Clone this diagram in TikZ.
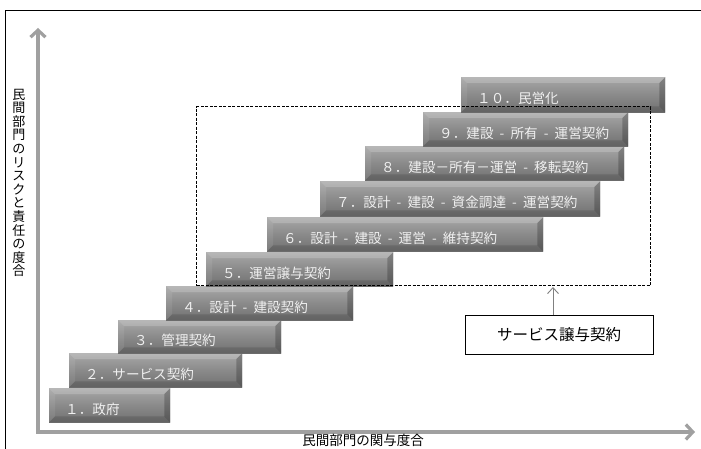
\documentclass[tikz,border=0pt]{standalone}
\usepackage{fontspec}
\newfontfamily\jp{Noto Sans CJK JP}
\usetikzlibrary{arrows.meta}
\definecolor{axisgray}{RGB}{160,160,160}
\definecolor{barTop}{RGB}{168,168,168}
\definecolor{barMid}{RGB}{138,138,138}
\definecolor{barBot}{RGB}{112,112,112}
\definecolor{bartxt}{RGB}{240,240,240}
\newcommand\sep{\hspace{0.45em}-\hspace{0.45em}}
\newcommand\stepbar[6]{%
  \node[barbox, minimum width=#4, minimum height=#5] (#1) at (#2,#3) {};
  \fill[white, opacity=0.18] (#1.north west) -- (#1.north east) -- ([shift={(-6,6)}]#1.north east) -- ([shift={(6,6)}]#1.north west) -- cycle;
  \fill[black, opacity=0.12] (#1.south west) -- (#1.south east) -- ([shift={(-6,-6)}]#1.south east) -- ([shift={(6,-6)}]#1.south west) -- cycle;
  \fill[black, opacity=0.22] (#1.north east) -- (#1.south east) -- ([shift={(-6,-6)}]#1.south east) -- ([shift={(-6,6)}]#1.north east) -- cycle;
  \fill[white, opacity=0.08] (#1.north west) -- (#1.south west) -- ([shift={(6,-6)}]#1.south west) -- ([shift={(6,6)}]#1.north west) -- cycle;
  \node[bartext] (#1t) at ([shift={(16,4)}]#1.west) {#6};
}
\begin{document}
\begin{tikzpicture}[x=1pt,y=-1pt,
  barbox/.style={rectangle, inner sep=0pt, anchor=north west, top color=barTop, bottom color=barBot, middle color=barMid},
  bartext/.style={anchor=west, inner sep=0pt, text=bartxt, font=\jp\fontsize{13.6}{14}\selectfont},
  axis/.style={draw=axisgray, line width=3.2pt, line cap=butt, line join=miter},
  lbl/.style={font=\jp\fontsize{13.5}{14}\selectfont, inner sep=0pt}]
\useasboundingbox (0,0) rectangle (701,449);
\fill[white] (0,0) rectangle (701,449);
% outer frame
\draw[line width=0.8pt] (5,449) -- (5,10) -- (701,10);
% axes
\coordinate (ytip) at (38,28);
\coordinate (origin) at (38,432);
\coordinate (xtip) at (695,432);
\draw[axis, {Straight Barb[length=7pt,width=15pt]}-{Straight Barb[length=7pt,width=15pt]}] (ytip) -- (origin) -- (xtip);
% axis labels
\node[lbl, align=center, font=\jp\fontsize{13}{13.6}\selectfont] (ylab) at (19,183) {民\\間\\部\\門\\の\\リ\\ス\\ク\\と\\責\\任\\の\\度\\合};
\node[lbl] (xlab) at (363,440) {民間部門の関与度合};
% steps
\stepbar{b1}{49}{388}{121}{34}{１．政府}
\stepbar{b2}{69}{353}{173}{34}{２．サービス契約}
\stepbar{b3}{118}{320}{163}{33}{３．管理契約}
\stepbar{b4}{166}{286}{187}{34}{４．設計\sep 建設契約}
\stepbar{b5}{206}{252}{187}{34}{５．運営譲与契約}
\stepbar{b6}{267}{217}{276}{34}{６．設計\sep 建設\sep 運営\sep 維持契約}
\stepbar{b7}{320}{181}{280}{35}{７．設計\sep 建設\sep 資金調達\sep 運営契約}
\stepbar{b8}{365}{146}{259}{34}{８．建設－所有－運営\sep 移転契約}
\stepbar{b9}{423}{112}{205}{34}{９．建設\sep 所有\sep 運営契約}
\stepbar{b10}{461}{77}{204}{35}{１０．民営化}
% dashed group
\node[draw=black, dashed, dash pattern=on 3pt off 1.5pt, line width=1.1pt, inner sep=0pt, minimum width=454, minimum height=179, anchor=north west] (grp) at (196,106) {};
% service concession box
\node[draw=black, line width=0.9pt, minimum width=188, minimum height=39, inner sep=0pt, font=\jp\fontsize{15.5}{16}\selectfont] (sc) at (559,334.5) {サービス譲与契約};
\coordinate (sctop) at (553,315);
\coordinate (grptip) at (553,287);
\draw[draw=gray, line width=0.9pt, -{Straight Barb[length=6pt,width=11pt]}] (sctop) -- (grptip);
\end{tikzpicture}
\end{document}
